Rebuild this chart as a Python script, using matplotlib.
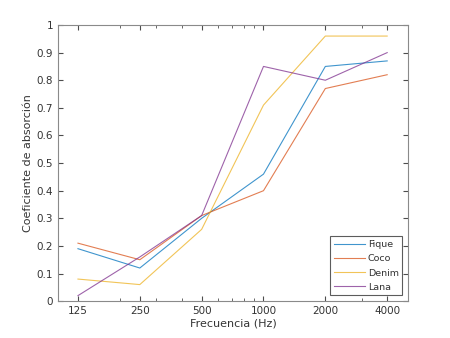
import numpy as np
import matplotlib.pyplot as plt
from matplotlib.ticker import FixedLocator, NullFormatter

frecuencias = [125, 250, 500, 1000, 2000, 4000]
fique = [0.19, 0.12, 0.30, 0.46, 0.85, 0.87]
coco = [0.21, 0.15, 0.31, 0.40, 0.77, 0.82]
denim = [0.08, 0.06, 0.26, 0.71, 0.96, 0.96]
lana = [0.02, 0.16, 0.31, 0.85, 0.80, 0.90]

series = [('Fique', fique, '#0072BD'),
          ('Coco', coco, '#D95319'),
          ('Denim', denim, '#EDB120'),
          ('Lana', lana, '#7E2F8E')]

plt.rcParams['font.family'] = 'DejaVu Sans'
fig = plt.figure(figsize=(4.5, 3.38), dpi=100)
ax = fig.add_axes([0.129, 0.109, 0.778, 0.817])

for nombre, vals, color in series:
    ax.plot(frecuencias, vals, color=color, lw=0.8, alpha=0.75, label=nombre)

ax.set_xscale('log')
ax.set_xlim(100, 5060)
ax.set_ylim(0, 1)
ax.xaxis.set_major_locator(FixedLocator(frecuencias))
ax.set_xticklabels([str(f) for f in frecuencias])
ax.xaxis.set_minor_locator(FixedLocator([200, 300, 400, 600, 700, 800, 900, 3000]))
ax.xaxis.set_minor_formatter(NullFormatter())
yt = np.arange(0, 1.01, 0.1)
ax.set_yticks(yt)
ax.set_yticklabels(['0'] + ['%.1f' % v for v in yt[1:-1]] + ['1'])

ax.tick_params(which='both', direction='in', top=True, right=True,
               colors='#4d4d4d', labelsize=7.5, labelcolor='#333333')
ax.tick_params(which='major', length=3.5)
ax.tick_params(which='minor', length=2)
for s in ax.spines.values():
    s.set_color('#8a8a8a')
    s.set_linewidth(0.8)

ax.set_xlabel('Frecuencia (Hz)', fontsize=8, color='#333333', labelpad=2)
ax.set_ylabel('Coeficiente de absorción', fontsize=8, color='#333333', labelpad=3)

leg = ax.legend(loc='lower right', fontsize=6.8, frameon=True, fancybox=False,
                edgecolor='#333333', handlelength=3.3, handletextpad=0.3,
                labelspacing=0.55, borderpad=0.4, borderaxespad=0.6)
leg.get_frame().set_linewidth(0.8)
for t in leg.get_texts():
    t.set_color('#333333')

fig.savefig('out.png', dpi=100)
